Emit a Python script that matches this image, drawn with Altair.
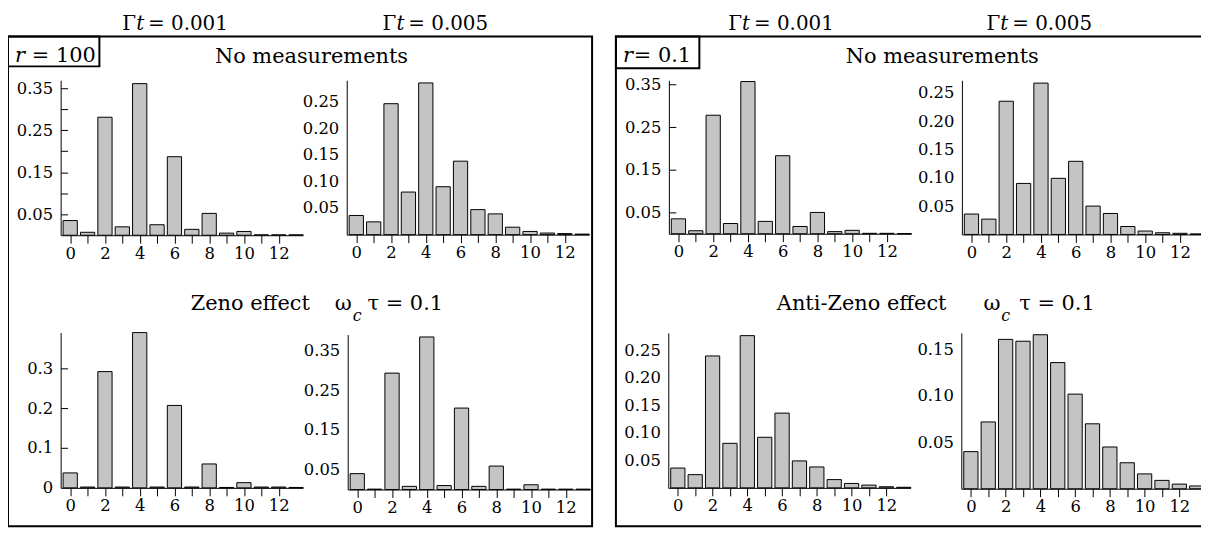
import altair as alt
import pandas as pd

# ---------------- data ----------------
n_values = list(range(14))

# r = 100, no measurements
none_r100_gt001 = [0.035, 0.007, 0.281, 0.020, 0.361, 0.025, 0.187, 0.014, 0.052, 0.005, 0.009, 0.001, 0.001, 0.001]
none_r100_gt005 = [0.036, 0.024, 0.246, 0.080, 0.285, 0.090, 0.138, 0.047, 0.039, 0.014, 0.006, 0.003, 0.002, 0.001]
# r = 100, Zeno effect
zeno_gt001 = [0.0375, 0.002, 0.292, 0.002, 0.390, 0.002, 0.207, 0.002, 0.060, 0.001, 0.013, 0.002, 0.002, 0.001]
zeno_gt005 = [0.040, 0.001, 0.293, 0.008, 0.384, 0.010, 0.205, 0.008, 0.059, 0.001, 0.012, 0.001, 0.001, 0.001]
# r = 0.1, no measurements
none_r01_gt001 = [0.035, 0.007, 0.278, 0.024, 0.357, 0.029, 0.183, 0.017, 0.050, 0.005, 0.008, 0.001, 0.001, 0.0005]
none_r01_gt005 = [0.036, 0.027, 0.235, 0.090, 0.267, 0.099, 0.129, 0.050, 0.037, 0.014, 0.006, 0.003, 0.002, 0.001]
# r = 0.1, Anti-Zeno effect
anti_gt001 = [0.036, 0.024, 0.240, 0.081, 0.277, 0.092, 0.136, 0.049, 0.038, 0.015, 0.008, 0.005, 0.002, 0.001]
anti_gt005 = [0.040, 0.072, 0.161, 0.159, 0.166, 0.136, 0.102, 0.070, 0.045, 0.028, 0.016, 0.009, 0.005, 0.003]

x_tick_values = list(range(13))

# ---------------- layout ----------------
FONT = "DejaVu Serif"
W, H = 1201, 525


def X(px):
    return px - 8


def Y(py):
    return py - 8


panels = [
    dict(vals=none_r100_gt001, ax=61, base=235, top=79, ymax=0.369,
         labels=[0.05, 0.15, 0.25, 0.35], ticks=[0.05, 0.10, 0.15, 0.20, 0.25, 0.30, 0.35], fmt=".2f"),
    dict(vals=none_r100_gt005, ax=349, base=234.4, top=79, ymax=0.29,
         labels=[0.05, 0.10, 0.15, 0.20, 0.25], ticks=[], fmt=".2f"),
    dict(vals=zeno_gt001, ax=61, base=489.3, top=333, ymax=0.39,
         labels=[0, 0.1, 0.2, 0.3], ticks=[0.1, 0.2, 0.3], fmt=".1~f"),
    dict(vals=zeno_gt005, ax=350, base=491, top=335, ymax=0.39,
         labels=[0.05, 0.15, 0.25, 0.35], ticks=[], fmt=".2f"),
    dict(vals=none_r01_gt001, ax=673.3, base=233.5, top=79, ymax=0.36,
         labels=[0.05, 0.15, 0.25, 0.35], ticks=[0.05, 0.15, 0.25, 0.35], fmt=".2f"),
    dict(vals=none_r01_gt005, ax=968.3, base=234.2, top=79, ymax=0.272,
         labels=[0.05, 0.10, 0.15, 0.20, 0.25], ticks=[], fmt=".2f"),
    dict(vals=anti_gt001, ax=672.7, base=489.3, top=333.3, ymax=0.282,
         labels=[0.05, 0.10, 0.15, 0.20, 0.25], ticks=[], fmt=".2f"),
    dict(vals=anti_gt005, ax=967.7, base=490.2, top=333.3, ymax=0.168,
         labels=[0.05, 0.10, 0.15], ticks=[], fmt=".2f"),
]

layers = []
dummy = pd.DataFrame({"a": [0]})

# frames
def frame(x1, y1, x2, y2, sw=2):
    return alt.Chart(dummy).mark_rect(fillOpacity=0, stroke="black", strokeWidth=sw).encode(
        x=alt.value(X(x1)), x2=alt.value(X(x2)), y=alt.value(Y(y1)), y2=alt.value(Y(y2))
    )

layers += [
    frame(8, 35, 596, 528),
    frame(620, 35, 1230, 528),
    frame(8, 35, 100, 65),
    frame(620, 35, 704, 67),
]

for p in panels:
    df = pd.DataFrame({"n": n_values, "p": p["vals"]})
    xs = alt.Scale(domain=[-0.55, 13.4], range=[X(p["ax"]), X(p["ax"]) + 244], nice=False, zero=False)
    ys = alt.Scale(domain=[0, p["ymax"]], range=[Y(p["base"]), Y(p["top"])], nice=False)
    bars = alt.Chart(df).transform_calculate(
        lo="datum.n - 0.41", hi="datum.n + 0.41"
    ).mark_bar(fill="#c4c4c4", stroke="black", strokeWidth=1).encode(
        x=alt.X("lo:Q", scale=xs, axis=alt.Axis(
            orient="bottom", offset=Y(p["base"]) - H, values=x_tick_values,
            labelExpr="datum.value % 2 == 0 ? datum.label : ''", format="d",
            tickSize=8, labelPadding=2, title=None)),
        x2="hi:Q",
        y=alt.Y("p:Q", scale=ys, axis=alt.Axis(
            orient="left", offset=-X(p["ax"]), values=p["labels"], format=p["fmt"],
            ticks=False, tickSize=0, labelPadding=8, title=None)),
        y2=alt.datum(0),
    )
    layers.append(bars)
    if p["ticks"]:
        tick_layer = alt.Chart(df).mark_point(opacity=0).encode(
            y=alt.Y("p:Q", scale=ys, axis=alt.Axis(
                orient="right", offset=X(p["ax"]) - W, values=p["ticks"],
                labels=False, domain=False, tickSize=7, title=None)),
        )
        layers.append(tick_layer)


def txt(s, x, y, size=21, italic=False, align="left"):
    kw = dict(text=s, font=FONT, fontSize=size, align=align, baseline="alphabetic", color="black")
    if italic:
        kw["fontStyle"] = "italic"
    return alt.Chart(dummy).mark_text(**kw).encode(x=alt.value(X(x)), y=alt.value(Y(y)))


# column headers
for hx, val in [(123, "0.001"), (385, "0.005"), (733, "0.001"), (993, "0.005")]:
    layers += [
        txt("Γ", hx, 28, size=20),
        txt("t", hx + 14, 28, size=20, italic=True),
        txt("= " + val, hx + 26, 28, size=20),
    ]

# r boxes
layers += [
    txt("r", 15, 61, italic=True), txt("= 100", 32, 61),
    txt("r", 627, 61, italic=True), txt("= 0.1", 638, 61),
]

# row titles
layers += [
    txt("No measurements", 313.5, 62, align="center"),
    txt("No measurements", 948.5, 62, align="center"),
    txt("Zeno effect", 192, 310),
    txt("ω", 337, 310), txt("c", 355, 321, size=16, italic=True), txt("τ = 0.1", 370, 310),
    txt("Anti-Zeno effect", 782, 310),
    txt("ω", 990, 310), txt("c", 1008, 321, size=16, italic=True), txt("τ = 0.1", 1026, 310),
]

chart = alt.layer(*layers).resolve_scale(
    x="independent", y="independent"
).resolve_axis(
    x="independent", y="independent"
).properties(
    width=W, height=H, autosize=alt.AutoSizeParams(type="none"), padding=0
).configure_view(stroke=None).configure_axis(
    labelFont=FONT, labelFontSize=16.5, labelColor="black",
    domainColor="black", domainWidth=1, tickColor="black", tickWidth=1,
    grid=False, labelFlush=False, labelOverlap=False
)

chart.save("out.html", embed_options={"renderer": "svg", "actions": False})
